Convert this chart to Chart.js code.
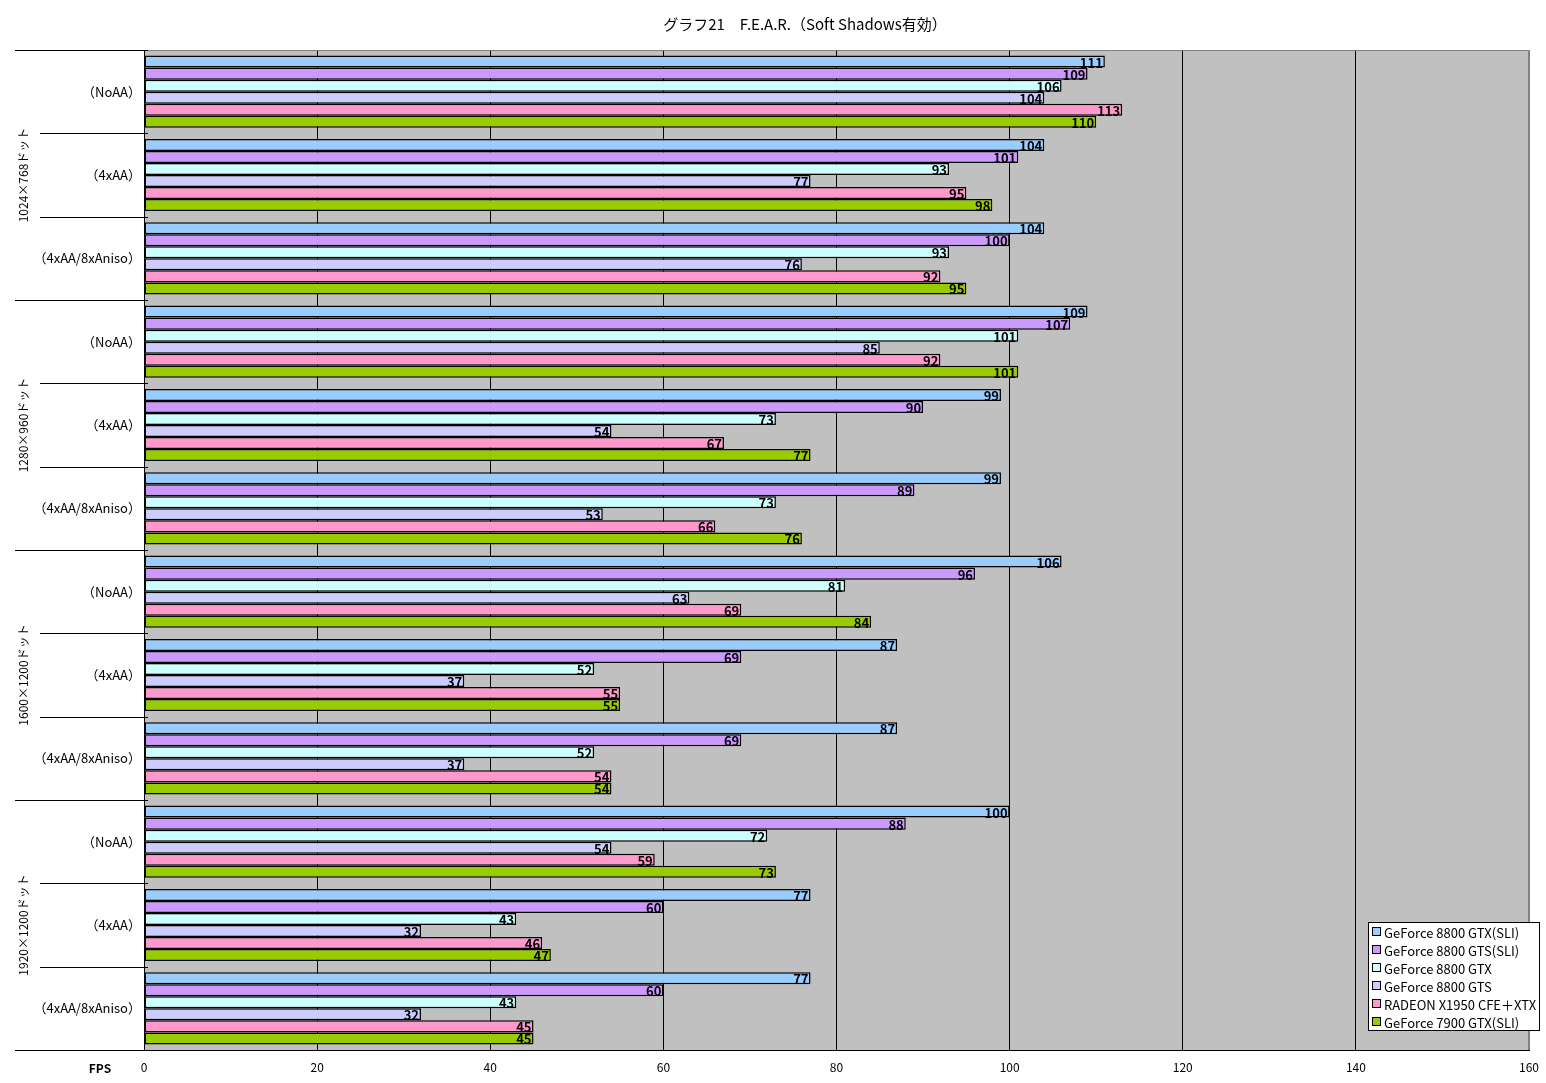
<!DOCTYPE html>
<html>
<head>
<meta charset="utf-8">
<script src="https://cdn.jsdelivr.net/npm/chart.js@4.4.1/dist/chart.umd.min.js"></script>
<style>
  body { margin: 0; background: #fff; }
  #wrap { width: 1546px; height: 1083px; position: relative; }
</style>
</head>
<body>
<div id="wrap"><canvas id="myChart" width="1546" height="1083"></canvas></div>
<script>
const titleText = "グラフ21　F.E.A.R.（Soft Shadows有効）";
const groups = ["1024×768ドット", "1280×960ドット", "1600×1200ドット", "1920×1200ドット"];
const settings = ["（NoAA）", "（4xAA）", "（4xAA/8xAniso）"];
const seriesNames = ["GeForce 8800 GTX(SLI)", "GeForce 8800 GTS(SLI)", "GeForce 8800 GTX", "GeForce 8800 GTS", "RADEON X1950 CFE＋XTX", "GeForce 7900 GTX(SLI)"];
const seriesColors = ["#99CCFF", "#CC99FF", "#CCFFFF", "#CCCCFF", "#FF99CC", "#99CC00"];
// order: 1024 NoAA, 4xAA, 4xAA/8xAniso, 1280 ..., 1600 ..., 1920 ...
const gtxSli = [111, 104, 104, 109, 99, 99, 106, 87, 87, 100, 77, 77];
const gtsSli = [109, 101, 100, 107, 90, 89, 96, 69, 69, 88, 60, 60];
const gtx    = [106, 93, 93, 101, 73, 73, 81, 52, 52, 72, 43, 43];
const gts    = [104, 77, 76, 85, 54, 53, 63, 37, 37, 54, 32, 32];
const radeon = [113, 95, 92, 92, 67, 66, 69, 55, 54, 59, 46, 45];
const gf7900 = [110, 98, 95, 101, 77, 76, 84, 55, 54, 73, 47, 45];
const xTicks = [0, 20, 40, 60, 80, 100, 120, 140, 160];

const FONT = "'Noto Sans CJK JP', 'DejaVu Sans', sans-serif";
const labels = [];
groups.forEach(g => settings.forEach(s => labels.push(s)));
const allSeries = [gtxSli, gtsSli, gtx, gts, radeon, gf7900];

const decor = {
  id: 'decor',
  beforeDraw(chart) {
    const { ctx, chartArea: a } = chart;
    ctx.save();
    ctx.fillStyle = '#C0C0C0';
    ctx.fillRect(a.left, a.top, a.right - a.left, a.bottom - a.top);
    ctx.restore();
  },
  afterDatasetsDraw(chart) {
    const { ctx, chartArea: a, scales } = chart;
    const y = scales.y;
    ctx.save();
    // value labels
    ctx.font = "bold 13px " + FONT;
    ctx.fillStyle = '#000';
    ctx.textAlign = 'right';
    ctx.textBaseline = 'middle';
    chart.data.datasets.forEach((ds, di) => {
      chart.getDatasetMeta(di).data.forEach((bar, i) => {
        ctx.fillText(String(ds.data[i]), bar.x - 2, bar.y + 1);
      });
    });
    // plot border top/right
    ctx.strokeStyle = '#808080';
    ctx.lineWidth = 1;
    ctx.beginPath();
    ctx.moveTo(a.left, a.top + 0.5);
    ctx.lineTo(a.right - 0.5, a.top + 0.5);
    ctx.lineTo(a.right - 0.5, a.bottom);
    ctx.stroke();
    // category separators
    const step = (a.bottom - a.top) / labels.length;
    ctx.strokeStyle = '#000';
    for (let i = 0; i <= labels.length; i++) {
      const py = Math.round(a.top + i * step) + 0.5;
      const x0 = (i % 3 === 0) ? 15 : 40;
      ctx.beginPath();
      ctx.moveTo(x0, py);
      ctx.lineTo(i === labels.length ? a.right : a.left + 4, py);
      ctx.stroke();
    }
    // group labels (rotated)
    ctx.font = "12px " + FONT;
    ctx.textAlign = 'center';
    ctx.textBaseline = 'middle';
    groups.forEach((g, gi) => {
      const cy = (y.getPixelForValue(gi * 3) + y.getPixelForValue(gi * 3 + 2)) / 2;
      ctx.save();
      ctx.translate(23, cy);
      ctx.rotate(-Math.PI / 2);
      ctx.fillText(g, 0, 0);
      ctx.restore();
    });
    // title
    ctx.font = "15px " + FONT;
    ctx.fillText(titleText, 805, 24);
    // FPS label
    ctx.font = "bold 12px " + FONT;
    ctx.fillText("FPS", 100, 1068);
    // legend
    const lx = 1368, ly = 922, lw = 171, lh = 108;
    ctx.fillStyle = '#fff';
    ctx.fillRect(lx, ly, lw, lh);
    ctx.strokeStyle = '#000';
    ctx.strokeRect(lx + 0.5, ly + 0.5, lw, lh);
    ctx.font = "13px " + FONT;
    ctx.textAlign = 'left';
    seriesNames.forEach((n, i) => {
      const ey = ly + 10 + i * 18;
      ctx.fillStyle = seriesColors[i];
      ctx.fillRect(lx + 5, ey - 4, 7, 7);
      ctx.strokeRect(lx + 4.5, ey - 4.5, 8, 8);
      ctx.fillStyle = '#000';
      ctx.fillText(n, lx + 16, ey + 1);
    });
    ctx.restore();
  }
};

new Chart(document.getElementById('myChart'), {
  type: 'bar',
  data: {
    labels: labels,
    datasets: seriesNames.map((n, i) => ({
      label: n,
      data: allSeries[i],
      backgroundColor: seriesColors[i],
      borderColor: '#000',
      borderWidth: 1.5,
      borderSkipped: false,
      categoryPercentage: 0.866,
      barPercentage: 1.0
    }))
  },
  options: {
    indexAxis: 'y',
    responsive: false,
    animation: false,
    devicePixelRatio: 1,
    layout: { padding: { top: 50, right: 17, left: 0, bottom: 0 } },
    scales: {
      x: {
        min: 0, max: 160,
        afterBuildTicks: (s) => { s.ticks = xTicks.map(v => ({ value: v })); },
        afterFit: (s) => { s.height = 33; s.paddingLeft = 0; s.paddingRight = 0; },
        grid: {
          color: (c) => c.tick && c.tick.value === 160 ? '#808080' : '#000',
          tickLength: 0,
          drawTicks: false
        },
        border: { color: '#000' },
        ticks: { color: '#000', font: { family: FONT, size: 12 }, padding: 10 }
      },
      y: {
        afterFit: (s) => { s.width = 144; },
        grid: { display: false, drawTicks: false },
        border: { color: '#000' },
        ticks: { color: '#000', font: { family: FONT, size: 13 }, padding: 3, autoSkip: false }
      }
    },
    plugins: {
      legend: { display: false },
      tooltip: { enabled: false },
      title: { display: false }
    }
  },
  plugins: [decor]
});
</script>
</body>
</html>
